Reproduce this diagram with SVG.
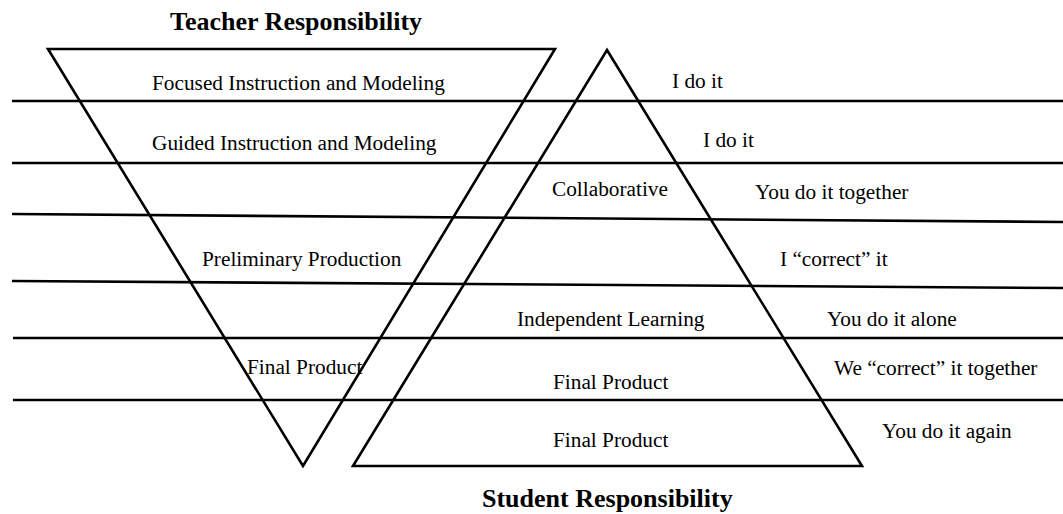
<svg xmlns="http://www.w3.org/2000/svg" width="1063" height="514" viewBox="0 0 1063 514">
<style>
.ln{stroke:#000;stroke-width:2.6;fill:none;stroke-linejoin:miter}
.t{font-family:"Liberation Serif","Times New Roman",serif;font-size:21.3px;fill:#000}
.h{font-family:"Liberation Serif","Times New Roman",serif;font-size:26px;font-weight:bold;fill:#000}
</style>
<rect width="1063" height="514" fill="#fff"/>
<g id="connectors">
<line class="ln" x1="12" y1="101" x2="1063" y2="101"/>
<line class="ln" x1="12" y1="163" x2="1063" y2="163"/>
<line class="ln" x1="12" y1="214" x2="1063" y2="222"/>
<line class="ln" x1="12" y1="281" x2="1063" y2="288"/>
<line class="ln" x1="13" y1="338" x2="1063" y2="338"/>
<line class="ln" x1="13" y1="400" x2="1063" y2="400"/>
</g>
<g id="teacher-triangle">
<polygon class="ln" points="48,49 555,49 303,466"/>
</g>
<g id="student-triangle">
<polygon class="ln" points="607,50 862,466 353,466"/>
</g>
<g id="teacher-title"><text class="h" x="170" y="30">Teacher Responsibility</text></g>
<g id="student-title"><text class="h" x="482" y="507">Student Responsibility</text></g>
<g id="teacher-labels">
<text class="t" x="152" y="90">Focused Instruction and Modeling</text>
<text class="t" x="152" y="150">Guided Instruction and Modeling</text>
<text class="t" x="202" y="266">Preliminary Production</text>
<text class="t" x="247" y="374">Final Product</text>
</g>
<g id="student-labels">
<text class="t" x="552" y="196">Collaborative</text>
<text class="t" x="517" y="326">Independent Learning</text>
<text class="t" x="553" y="389">Final Product</text>
<text class="t" x="553" y="447">Final Product</text>
</g>
<g id="right-labels">
<text class="t" x="672" y="88">I do it</text>
<text class="t" x="703" y="147">I do it</text>
<text class="t" x="755" y="199">You do it together</text>
<text class="t" x="780" y="266">I “correct” it</text>
<text class="t" x="827" y="326">You do it alone</text>
<text class="t" x="834" y="375">We “correct” it together</text>
<text class="t" x="882" y="438">You do it again</text>
</g>
</svg>
